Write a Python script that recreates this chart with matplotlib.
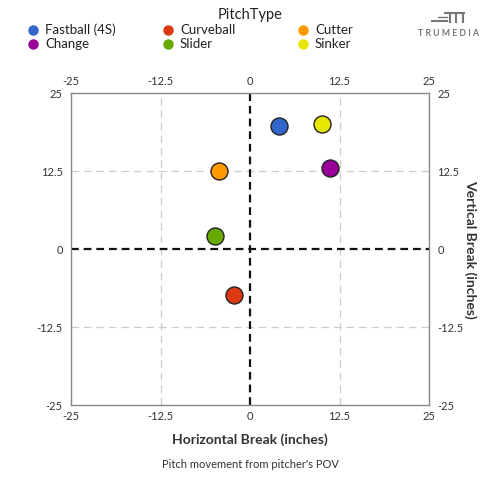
import matplotlib
matplotlib.use("Agg")
import matplotlib.pyplot as plt
from matplotlib.lines import Line2D

plt.rcParams['font.family'] = ['Lato', 'DejaVu Sans']

pitch_types = ["Fastball (4S)", "Curveball", "Cutter", "Change", "Slider", "Sinker"]
colors = ["#3366cc", "#dc3912", "#ff9900", "#990099", "#66aa00", "#e6e600"]
h_break = [4.1, -2.3, -4.3, 11.2, -4.9, 10.0]
v_break = [19.7, -7.4, 12.5, 13.0, 2.1, 20.1]
ticks = [-25, -12.5, 0, 12.5, 25]
tick_labels = ["-25", "-12.5", "0", "12.5", "25"]

fig = plt.figure(figsize=(5, 5), dpi=100)
ax = fig.add_axes([71/500, 1-405/500, 358/500, 312/500])
ax.set_xlim(-25, 25)
ax.set_ylim(-25, 25)

for v in [-12.5, 12.5]:
    ax.axvline(v, color="#cccccc", lw=0.9, ls=(0, (6, 4)), zorder=1)
    ax.axhline(v, color="#cccccc", lw=0.9, ls=(0, (6, 4)), zorder=1)
ax.axvline(0, color="#111111", lw=1.6, ls=(0, (3.5, 2.2)), zorder=2)
ax.axhline(0, color="#111111", lw=1.6, ls=(0, (3.5, 2.2)), zorder=2)

for x, y, c in zip(h_break, v_break, colors):
    ax.scatter(x, y, s=150, color=c, edgecolor="#222222", linewidth=1.0, zorder=5)

for s in ax.spines.values():
    s.set_color("#888888")
    s.set_linewidth(1.0)

ax.set_xticks(ticks)
ax.set_xticklabels(tick_labels)
ax.set_yticks(ticks)
ax.set_yticklabels(tick_labels)
ax.tick_params(axis="both", which="both", length=0, labelsize=8, colors="#333333", pad=4,
               top=True, right=True, labeltop=True, labelright=True)
ax.tick_params(axis="y", pad=6)

fig.text(0.5, 1-440/500, "Horizontal Break (inches)", ha="center", va="center",
         fontsize=10, fontweight="bold", color="#333333")
fig.text(470/500, 1-249/500, "Vertical Break (inches)", ha="center", va="center",
         rotation=-90, fontsize=10, fontweight="bold", color="#333333")
fig.text(0.5, 1-465/500, "Pitch movement from pitcher's POV", ha="center", va="center",
         fontsize=8, color="#333333")

# legend
fig.text(250/500, 1-15/500, "PitchType", ha="center", va="center", fontsize=10.5, color="#222222")
xs = [33, 168, 303]
ys = [30, 44]
for i, (name, c) in enumerate(zip(pitch_types, colors)):
    col = i % 3
    row = i // 3
    px, py = xs[col], ys[row]
    fig.add_artist(Line2D([px/500], [1-py/500], marker="o", markersize=6.5, color=c,
                          markeredgecolor=c, transform=fig.transFigure))
    fig.text((px+12)/500, 1-py/500, name, ha="left", va="center", fontsize=9.5, color="#222222")

# logo
lc = "#777777"
fig.add_artist(Line2D([432/500, 447/500], [1-21/500, 1-21/500], color=lc, lw=1.5, transform=fig.transFigure))
fig.add_artist(Line2D([438/500, 447/500], [1-17/500, 1-17/500], color=lc, lw=1.0, transform=fig.transFigure))
fig.add_artist(Line2D([445/500, 464/500], [1-13/500, 1-13/500], color=lc, lw=1.5, transform=fig.transFigure))
for xx in [450, 456, 463]:
    fig.add_artist(Line2D([xx/500, xx/500], [1-13/500, 1-22/500], color=lc, lw=1.5, transform=fig.transFigure))
fig.text(449/500, 1-33/500, "T R U M E D I A", ha="center", va="center", fontsize=6.3,
         fontweight="bold", color=lc)

fig.savefig("out.png", dpi=100)
